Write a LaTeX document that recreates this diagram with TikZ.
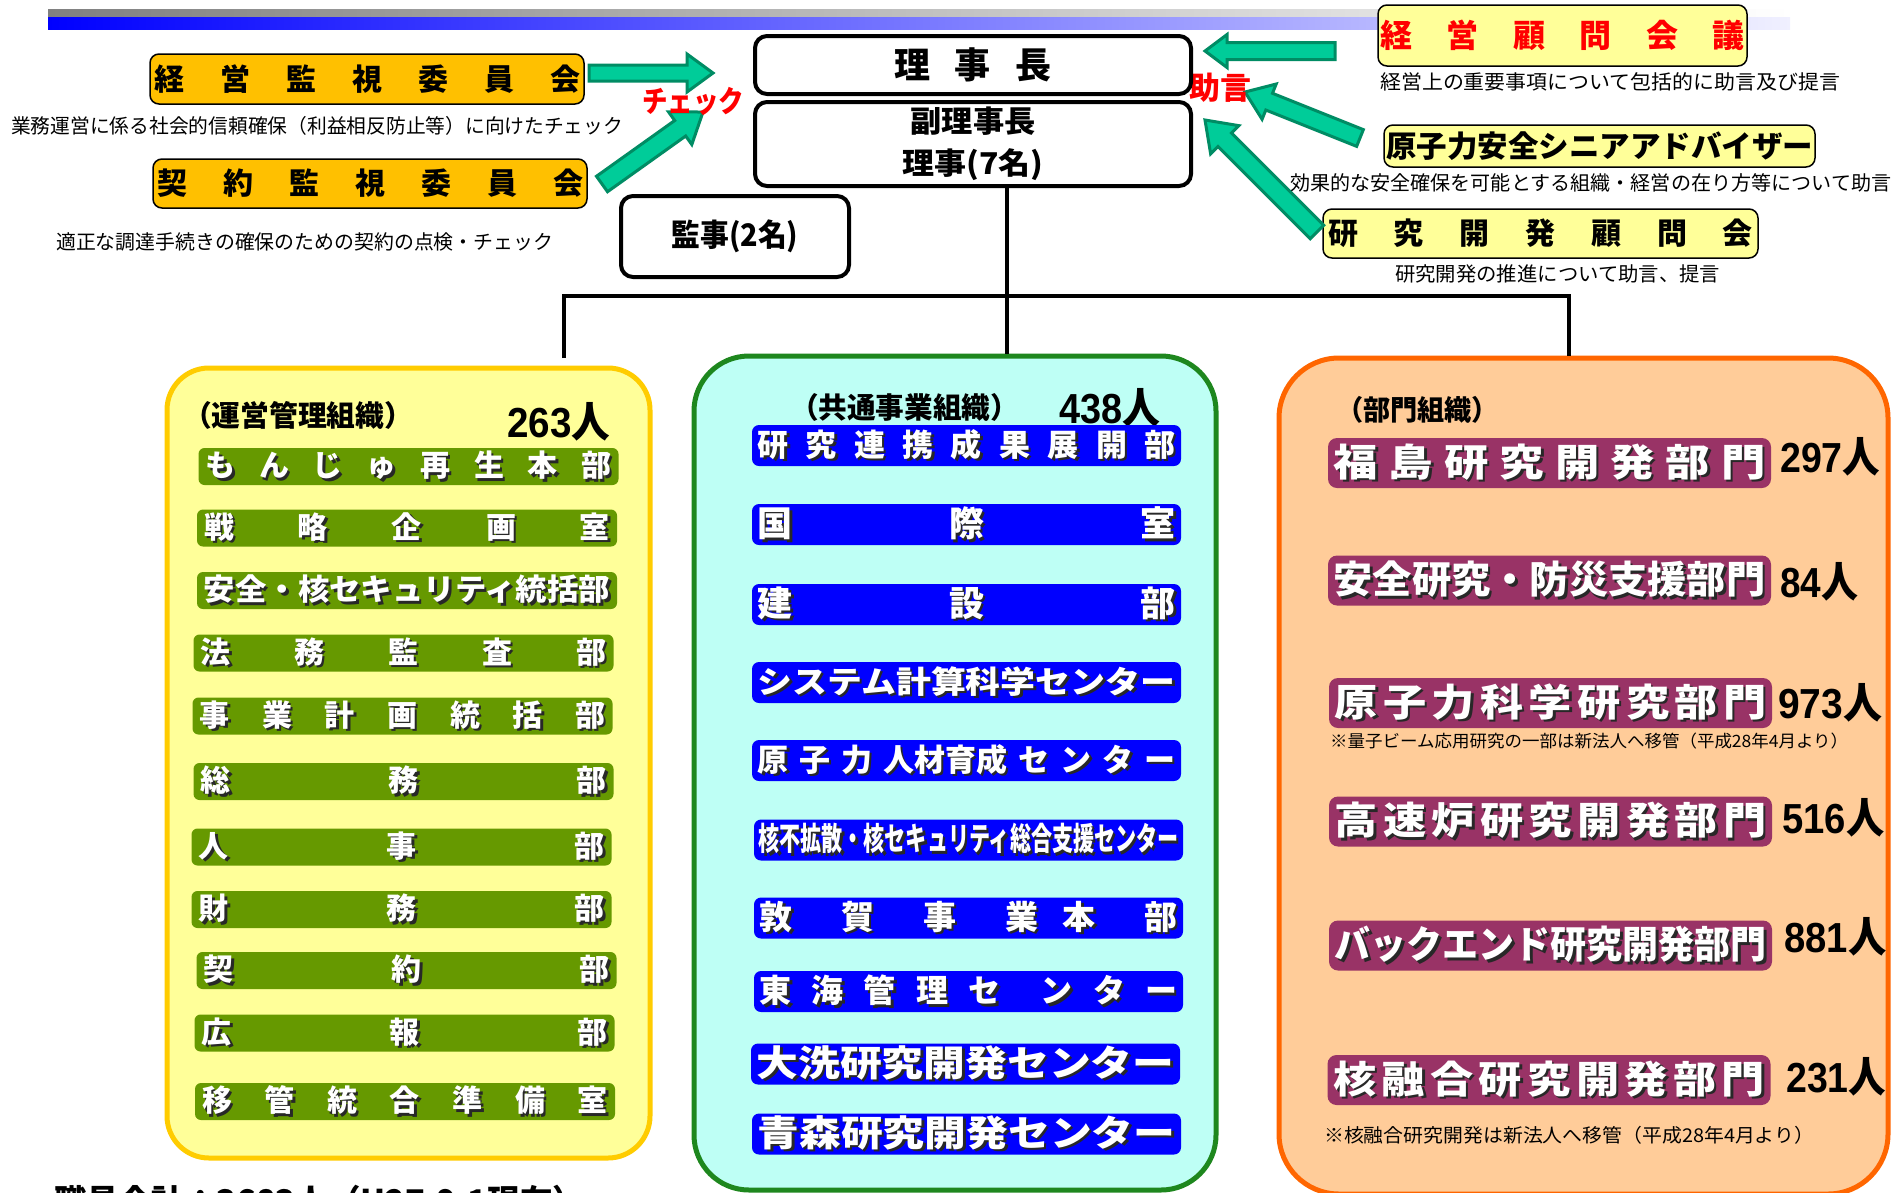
\documentclass[tikz,border=0pt]{standalone}
\usepackage{fontspec}
\usepackage{graphicx}
\setmainfont{Noto Sans CJK JP}
\newfontfamily\numf{Liberation Sans}
\usetikzlibrary{calc}

\definecolor{hgray}{RGB}{128,128,128}
\definecolor{hblue}{RGB}{0,0,255}
\definecolor{hblueend}{RGB}{240,240,255}
\definecolor{kcol}{RGB}{255,192,0}
\definecolor{advfill}{RGB}{255,255,153}
\definecolor{arrfill}{RGB}{0,204,153}
\definecolor{arrline}{RGB}{0,140,100}
\definecolor{yfill}{RGB}{255,255,153}
\definecolor{yline}{RGB}{255,204,0}
\definecolor{cfill}{RGB}{190,255,245}
\definecolor{cline}{RGB}{30,135,30}
\definecolor{ofill}{RGB}{255,204,153}
\definecolor{oline}{RGB}{255,102,0}
\definecolor{gbarc}{RGB}{102,153,0}
\definecolor{bbarc}{RGB}{0,0,255}
\definecolor{mbarc}{RGB}{153,51,102}
\definecolor{shadowc}{RGB}{40,40,40}

\newsavebox\dbox
\newcommand\fs[1]{\fontsize{#1pt}{#1pt}\selectfont}
\newcommand\dist[2]{\sbox\dbox{#2}\ifdim\wd\dbox>#1pt\relax\resizebox{#1pt}{\height}{\usebox\dbox}\else\hbox to #1pt{#2}\fi}
\newcommand\sx[2]{\resizebox{#1pt}{\height}{#2}}
\newcommand\dsx[3]{\resizebox{#1pt}{\height}{\hbox to #2pt{#3}}}
\newcommand\shd[1]{\rlap{\kern2.5pt\raisebox{-2.5pt}{\color{shadowc}#1}}{\color{white}#1}}
\newcommand\ppl[2]{\sx{#1}{{\numf\bfseries #2}人}}
\newcommand\blockarrow[5]{%
 \draw[barrow] let \p1=(#1), \p2=(#2), \n1={atan2(\y2-\y1,\x2-\x1)}, \n2={veclen(\x2-\x1,\y2-\y1)} in
 ($(\p1)+(\n1+90:#3pt)$) -- ($(\p1)+(\n1:\n2-#5pt)+(\n1+90:#3pt)$) -- ($(\p1)+(\n1:\n2-#5pt)+(\n1+90:#4pt)$) -- (\p2) -- ($(\p1)+(\n1:\n2-#5pt)+(\n1-90:#4pt)$) -- ($(\p1)+(\n1:\n2-#5pt)+(\n1-90:#3pt)$) -- ($(\p1)+(\n1-90:#3pt)$) -- cycle;}

\tikzset{
 execbox/.style={draw=black, line width=4pt, rounded corners=12pt, fill=white, inner sep=0pt},
 comm/.style={fill=kcol, draw=black, line width=1.5pt, rounded corners=9pt, inner sep=0pt, font=\fs{30}\bfseries},
 adv/.style={fill=advfill, draw=black, line width=1.5pt, rounded corners=9pt, inner sep=0pt, font=\fs{30}\bfseries},
 capt/.style={inner sep=0pt, font=\fs{20}, anchor=west},
 grp/.style={line width=5pt, inner sep=0pt},
 gb/.style={fill=gbarc, rounded corners=6pt, minimum width=420pt, minimum height=37pt, inner sep=0pt, font=\fs{30}\bfseries},
 bb/.style={fill=bbarc, rounded corners=7pt, minimum width=429pt, minimum height=41pt, inner sep=0pt, font=\fs{31}\bfseries},
 mb/.style={fill=mbarc, rounded corners=9pt, minimum width=443pt, minimum height=50pt, inner sep=0pt, font=\fs{38}\bfseries},
 numt/.style={anchor=base west, inner sep=0pt, font=\fs{42}\bfseries},
 hdt/.style={inner sep=0pt, font=\fs{29}\bfseries},
 redt/.style={inner sep=0pt, text=red, font=\fs{30}\bfseries},
 orgline/.style={line width=4pt},
 barrow/.style={fill=arrfill, draw=arrline, line width=3pt, line join=miter},
}

\begin{document}
\begin{tikzpicture}[x=1pt,y=-1pt]
\useasboundingbox (0,0) rectangle (1895,1192);
\fill[white] (0,0) rectangle (1895,1192);
% header bars
\shade[left color=hgray, right color=white] (48,9) rectangle (1790,17);
\shade[left color=hblue, right color=hblueend] (48,17) rectangle (1790,29);

% committees (left)
\node[comm, minimum width=434pt, minimum height=50pt] (kk1) at (367,79) {\dist{426}{経\hfill 営\hfill 監\hfill 視\hfill 委\hfill 員\hfill 会}};
\node[capt] (c1) at (11,126) {\sx{612}{業務運営に係る社会的信頼確保（利益相反防止等）に向けたチェック}};
\node[comm, minimum width=434pt, minimum height=49pt] (kk2) at (370,183.5) {\dist{426}{契\hfill 約\hfill 監\hfill 視\hfill 委\hfill 員\hfill 会}};
\node[capt] (c2) at (56,242) {\sx{497}{適正な調達手続きの確保のための契約の点検・チェック}};

% advisors (right)
\node[adv, minimum width=369pt, minimum height=61pt, font=\fs{32}\bfseries, text=red] (ad1) at (1562.5,35.5) {\dist{364}{経\hfill 営\hfill 顧\hfill 問\hfill 会\hfill 議}};
\node[capt] (c3) at (1380,82) {\sx{460}{経営上の重要事項について包括的に助言及び提言}};
\node[adv, minimum width=431pt, minimum height=42pt] (ad2) at (1599.5,146) {\sx{427}{原子力安全シニアアドバイザー}};
\node[capt] (c4) at (1290,182.5) {\sx{601}{効果的な安全確保を可能とする組織・経営の在り方等について助言}};
\node[adv, minimum width=435pt, minimum height=49pt] (ad3) at (1540.5,233.5) {\dist{425}{研\hfill 究\hfill 開\hfill 発\hfill 顧\hfill 問\hfill 会}};
\node[capt] (c5) at (1395,273.5) {\sx{325}{研究開発の推進について助言、提言}};

% arrows
\coordinate (a1s) at (589,73);   \coordinate (a1e) at (713,73);
\coordinate (a2s) at (602,184);  \coordinate (a2e) at (703,112);
\coordinate (a3s) at (1335,51);  \coordinate (a3e) at (1205,51);
\coordinate (a4s) at (1360,138); \coordinate (a4e) at (1245,92);
\coordinate (a5s) at (1317,232); \coordinate (a5e) at (1205,120);
\blockarrow{a1s}{a1e}{8}{19}{26}
\blockarrow{a2s}{a2e}{9.5}{20}{28}
\blockarrow{a3s}{a3e}{8.5}{16.5}{22}
\blockarrow{a4s}{a4e}{9}{19}{26}
\blockarrow{a5s}{a5e}{9.5}{20}{28}
\node[redt] (chk) at (693,101.5) {\sx{102}{チェック}};
\node[redt, font=\fs{31}\bfseries] (adv) at (1220,87.5) {\sx{62}{助言}};

% executives
\node[execbox, minimum width=436pt, minimum height=58pt, font=\fs{36}\bfseries] (pres) at (973,65) {\hbox to 157pt{理\hfill 事\hfill 長}};
\node[execbox, minimum width=436pt, minimum height=84pt, font=\fs{30}\bfseries, align=center] (vice) at (973,144) {\sx{125}{副理事長}\\[12pt]\sx{141}{理事(7名)}};
\node[execbox, minimum width=228pt, minimum height=81pt, font=\fs{31}\bfseries] (aud) at (735,236.5) {\sx{127}{監事(2名)}};

% groups
\node[grp, draw=yline, fill=yfill, minimum width=483pt, minimum height=790pt, rounded corners=42pt] (grpA) at (408.5,763) {};
\node[grp, draw=cline, fill=cfill, minimum width=522pt, minimum height=834pt, rounded corners=55pt] (grpB) at (955,773) {};
\node[grp, draw=oline, fill=ofill, minimum width=609pt, minimum height=836pt, rounded corners=60pt] (grpC) at (1583.5,776) {};

% org lines
\coordinate (stemTop) at (1007,186);
\coordinate (hubL) at (564,296);
\coordinate (hubR) at (1569,296);
\coordinate (dropL) at (564,358);
\draw[orgline] (stemTop) -- (grpB.north -| stemTop);
\draw[orgline] (dropL) -- (hubL) -- (hubR) -- (grpC.north -| hubR);

% group A : management
\node[hdt] (hA) at (298,415) {\sx{230}{（運営管理組織）}};
\node[numt] (nA) at (507,437) {\ppl{103}{263}};
\node[gb] (g1) at (408.5,466.5) {\shd{\dist{406}{も\hfill ん\hfill じ\hfill ゅ\hfill 再\hfill 生\hfill 本\hfill 部}}};
\node[gb] (g2) at (407,528) {\shd{\dist{406}{戦\hfill 略\hfill 企\hfill 画\hfill 室}}};
\node[gb] (g3) at (407,590.5) {\shd{\sx{406}{安全・核セキュリティ統括部}}};
\node[gb] (g4) at (403.5,653) {\shd{\dist{406}{法\hfill 務\hfill 監\hfill 査\hfill 部}}};
\node[gb] (g5) at (402.5,716) {\shd{\dist{406}{事\hfill 業\hfill 計\hfill 画\hfill 統\hfill 括\hfill 部}}};
\node[gb] (g6) at (403.5,781.5) {\shd{\dist{406}{総\hfill 務\hfill 部}}};
\node[gb] (g7) at (401.5,847) {\shd{\dist{406}{人\hfill 事\hfill 部}}};
\node[gb] (g8) at (401.5,909.5) {\shd{\dist{406}{財\hfill 務\hfill 部}}};
\node[gb] (g9) at (406.5,970.5) {\shd{\dist{406}{契\hfill 約\hfill 部}}};
\node[gb] (g10) at (404.5,1033) {\shd{\dist{406}{広\hfill 報\hfill 部}}};
\node[gb] (g11) at (405,1101.5) {\shd{\dist{406}{移\hfill 管\hfill 統\hfill 合\hfill 準\hfill 備\hfill 室}}};

% group B : common
\node[hdt] (hB) at (904.5,407) {\sx{229}{（共通事業組織）}};
\node[numt] (nB) at (1059,423) {\ppl{101}{438}};
\node[bb] (b1) at (966.5,445.5) {\shd{\dist{418}{研\hfill 究\hfill 連\hfill 携\hfill 成\hfill 果\hfill 展\hfill 開\hfill 部}}};
\node[bb, font=\fs{35}\bfseries] (b2) at (966.5,524.5) {\shd{\dist{418}{国\hfill 際\hfill 室}}};
\node[bb, font=\fs{35}\bfseries] (b3) at (966.5,604.5) {\shd{\dist{418}{建\hfill 設\hfill 部}}};
\node[bb] (b4) at (966.5,682.5) {\shd{\sx{418}{システム計算科学センター}}};
\node[bb] (b5) at (966.5,760.5) {\shd{\dist{418}{原\hfill 子\hfill 力\hfill 人材育成\hfill セ\hfill ン\hfill タ\hfill ー}}};
\node[bb, font=\fs{32}\bfseries] (b6) at (968.5,840) {\shd{\sx{420}{核不拡散・核セキュリティ総合支援センター}}};
\node[bb, font=\fs{33}\bfseries] (b7) at (968.5,918) {\shd{\dist{418}{敦\hskip0pt plus2fill 賀\hskip0pt plus2fill 事\hskip0pt plus2fill 業\hskip0pt plus1fill 本\hskip0pt plus2fill 部}}};
\node[bb, font=\fs{32}\bfseries] (b8) at (968.5,991.5) {\shd{\dist{418}{東\hfill 海\hfill 管\hfill 理\hfill セ\hskip0pt plus2fill ン\hfill タ\hfill ー}}};
\node[bb, font=\fs{36}\bfseries] (b9) at (965.5,1064) {\shd{\sx{418}{大洗研究開発センター}}};
\node[bb, font=\fs{36}\bfseries] (b10) at (966.5,1134) {\shd{\sx{418}{青森研究開発センター}}};

% group C : sectors
\node[hdt, font=\fs{28}\bfseries] (hC) at (1417.5,410) {\sx{163}{（部門組織）}};
\node[mb] (m1) at (1549.5,463) {\shd{\dsx{432}{370}{福\hfill 島\hfill 研\hfill 究\hfill 開\hfill 発\hfill 部\hfill 門}}};
\node[numt] (n1) at (1780,472) {\ppl{100}{297}};
\node[mb] (m2) at (1549.5,580.5) {\shd{\sx{432}{安全研究・防災支援部門}}};
\node[numt] (n2) at (1780,597) {\ppl{78}{84}};
\node[mb] (m3) at (1550.5,703) {\shd{\dsx{432}{380}{原\hfill 子\hfill 力\hfill 科\hfill 学\hfill 研\hfill 究\hfill 部\hfill 門}}};
\node[numt] (n3) at (1778,718) {\ppl{104}{973}};
\node[capt, font=\fs{17}] (note1) at (1330,741) {\sx{518}{※量子ビーム応用研究の一部は新法人へ移管（平成28年4月より）}};
\node[mb] (m4) at (1550.5,821.5) {\shd{\dsx{432}{380}{高\hfill 速\hfill 炉\hfill 研\hfill 究\hfill 開\hfill 発\hfill 部\hfill 門}}};
\node[numt] (n4) at (1782,833) {\ppl{102}{516}};
\node[mb] (m5) at (1550.5,945.5) {\shd{\sx{432}{バックエンド研究開発部門}}};
\node[numt] (n5) at (1784,952) {\ppl{102}{881}};
\node[mb] (m6) at (1549,1080) {\shd{\dsx{432}{380}{核\hfill 融\hfill 合\hfill 研\hfill 究\hfill 開\hfill 発\hfill 部\hfill 門}}};
\node[numt] (n6) at (1786,1092) {\ppl{100}{231}};
\node[capt, font=\fs{19}] (note2) at (1324,1135) {\sx{490}{※核融合研究開発は新法人へ移管（平成28年4月より）}};

% bottom total (cut off by the frame)
\node[anchor=base west, inner sep=0pt, font=\fs{34}\bfseries] (total) at (54,1214) {\sx{531}{職員合計：3683人（H27.9.1現在）}};
\end{tikzpicture}
\end{document}
